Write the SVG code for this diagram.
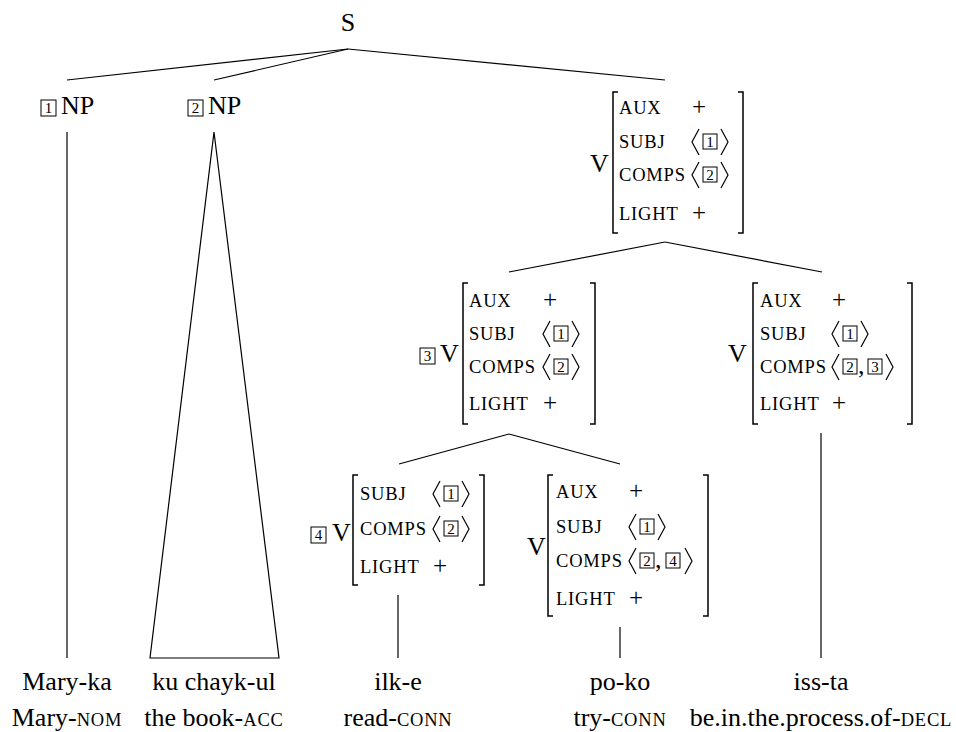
<svg xmlns="http://www.w3.org/2000/svg" width="956" height="732" viewBox="0 0 956 732">
<style>
text{font-family:"Liberation Serif","Times New Roman",serif;fill:#000}
.t{font-size:26px}
.m{font-size:26px;text-anchor:middle}
.f{font-size:18.5px;letter-spacing:0.8px}
.sc{font-size:18.5px;letter-spacing:0.8px}
.p{font-size:25px}
.d{font-size:15px;text-anchor:middle}
.bx{fill:none;stroke:#000;stroke-width:1}
.br{fill:none;stroke:#000;stroke-width:1.5}
.ab{fill:none;stroke:#000;stroke-width:1.2}
.c{fill:none;stroke:#000;stroke-width:1.2}
</style>
<rect width="956" height="732" fill="#fff"/>

<g id="connectors" class="c">
<line x1="348" y1="49" x2="67" y2="80"/>
<line x1="348" y1="49" x2="214" y2="80"/>
<line x1="348" y1="49" x2="665" y2="80"/>
<line x1="67" y1="132" x2="67" y2="658"/>
<path d="M214,132 L150,658 L279,658 Z"/>
<line x1="665" y1="242" x2="509" y2="272"/>
<line x1="665" y1="242" x2="822" y2="272"/>
<line x1="509" y1="434" x2="399" y2="464"/>
<line x1="509" y1="434" x2="620" y2="464"/>
<line x1="398" y1="595" x2="398" y2="658"/>
<line x1="620" y1="627" x2="620" y2="658"/>
<line x1="821" y1="433" x2="821" y2="658"/>
</g>

<g id="node-S">
<text class="m" x="348" y="31">S</text>
</g>

<g id="node-NP1">
<rect class="bx" x="41" y="100" width="15" height="16"/>
<text class="d" x="48.5" y="113">1</text>
<text class="t" x="61" y="114">NP</text>
</g>

<g id="node-NP2">
<rect class="bx" x="188" y="100" width="15" height="16"/>
<text class="d" x="195.5" y="113">2</text>
<text class="t" x="208" y="114">NP</text>
</g>

<g id="node-V-top">
<text class="t" x="590" y="172">V</text>
<path class="br" d="M618,92 H613 V233 H618"/>
<path class="br" d="M738,92 H743 V233 H738"/>
<text class="f" x="619" y="114">AUX</text>
<text class="p" x="692" y="115">+</text>
<text class="f" x="619" y="148">SUBJ</text>
<path class="ab" d="M699,129 L692,142 L699,155"/>
<rect class="bx" x="703" y="134" width="14" height="15"/>
<text class="d" x="710" y="147">1</text>
<path class="ab" d="M721,129 L728,142 L721,155"/>
<text class="f" x="619" y="181">COMPS</text>
<path class="ab" d="M699,162 L692,175 L699,188"/>
<rect class="bx" x="703" y="167" width="14" height="15"/>
<text class="d" x="710" y="180">2</text>
<path class="ab" d="M721,162 L728,175 L721,188"/>
<text class="f" x="619" y="220">LIGHT</text>
<text class="p" x="692" y="221">+</text>
</g>

<g id="node-V3">
<rect class="bx" x="420" y="348" width="15" height="16"/>
<text class="d" x="427.5" y="361">3</text>
<text class="t" x="440" y="362">V</text>
<path class="br" d="M468,283 H463 V424 H468"/>
<path class="br" d="M590,283 H595 V424 H590"/>
<text class="f" x="469" y="307">AUX</text>
<text class="p" x="543" y="308">+</text>
<text class="f" x="469" y="340">SUBJ</text>
<path class="ab" d="M550,321 L543,334 L550,347"/>
<rect class="bx" x="554" y="326" width="14" height="15"/>
<text class="d" x="561" y="339">1</text>
<path class="ab" d="M572,321 L579,334 L572,347"/>
<text class="f" x="469" y="373">COMPS</text>
<path class="ab" d="M550,354 L543,367 L550,380"/>
<rect class="bx" x="554" y="359" width="14" height="15"/>
<text class="d" x="561" y="372">2</text>
<path class="ab" d="M572,354 L579,367 L572,380"/>
<text class="f" x="469" y="410">LIGHT</text>
<text class="p" x="543" y="411">+</text>
</g>

<g id="node-V-right">
<text class="t" x="728" y="362">V</text>
<path class="br" d="M758,283 H753 V424 H758"/>
<path class="br" d="M907,283 H912 V424 H907"/>
<text class="f" x="760" y="307">AUX</text>
<text class="p" x="832" y="308">+</text>
<text class="f" x="760" y="340">SUBJ</text>
<path class="ab" d="M839,321 L832,334 L839,347"/>
<rect class="bx" x="843" y="326" width="14" height="15"/>
<text class="d" x="850" y="339">1</text>
<path class="ab" d="M861,321 L868,334 L861,347"/>
<text class="f" x="760" y="373">COMPS</text>
<path class="ab" d="M839,354 L832,367 L839,380"/>
<rect class="bx" x="843" y="359" width="14" height="15"/>
<text class="d" x="850" y="372">2</text>
<text class="t" x="858" y="374">,</text>
<rect class="bx" x="868" y="359" width="14" height="15"/>
<text class="d" x="875" y="372">3</text>
<path class="ab" d="M886,354 L893,367 L886,380"/>
<text class="f" x="760" y="410">LIGHT</text>
<text class="p" x="832" y="411">+</text>
</g>

<g id="node-V4">
<rect class="bx" x="311" y="527" width="15" height="16"/>
<text class="d" x="318.5" y="540">4</text>
<text class="t" x="332" y="541">V</text>
<path class="br" d="M358,475 H353 V585 H358"/>
<path class="br" d="M479,475 H484 V585 H479"/>
<text class="f" x="360" y="500">SUBJ</text>
<path class="ab" d="M440,481 L433,494 L440,507"/>
<rect class="bx" x="444" y="486" width="14" height="15"/>
<text class="d" x="451" y="499">1</text>
<path class="ab" d="M462,481 L469,494 L462,507"/>
<text class="f" x="360" y="535">COMPS</text>
<path class="ab" d="M440,516 L433,529 L440,542"/>
<rect class="bx" x="444" y="521" width="14" height="15"/>
<text class="d" x="451" y="534">2</text>
<path class="ab" d="M462,516 L469,529 L462,542"/>
<text class="f" x="360" y="573">LIGHT</text>
<text class="p" x="433" y="574">+</text>
</g>

<g id="node-V-poko">
<text class="t" x="527" y="555">V</text>
<path class="br" d="M553,475 H548 V616 H553"/>
<path class="br" d="M703,475 H708 V616 H703"/>
<text class="f" x="556" y="498">AUX</text>
<text class="p" x="629" y="499">+</text>
<text class="f" x="556" y="533">SUBJ</text>
<path class="ab" d="M636,514 L629,527 L636,540"/>
<rect class="bx" x="640" y="519" width="14" height="15"/>
<text class="d" x="647" y="532">1</text>
<path class="ab" d="M658,514 L665,527 L658,540"/>
<text class="f" x="556" y="567">COMPS</text>
<path class="ab" d="M636,548 L629,561 L636,574"/>
<rect class="bx" x="640" y="553" width="14" height="15"/>
<text class="d" x="647" y="566">2</text>
<text class="t" x="655" y="568">,</text>
<rect class="bx" x="666" y="553" width="14" height="15"/>
<text class="d" x="673" y="566">4</text>
<path class="ab" d="M685,548 L692,561 L685,574"/>
<text class="f" x="556" y="605">LIGHT</text>
<text class="p" x="629" y="606">+</text>
</g>

<g id="leaf-Mary-ka">
<text class="m" x="67" y="690">Mary-ka</text>
<text class="m" x="67" y="726">Mary-<tspan class="sc">NOM</tspan></text>
</g>
<g id="leaf-ku-chayk-ul">
<text class="m" x="214" y="690">ku chayk-ul</text>
<text class="m" x="214" y="726">the book-<tspan class="sc">ACC</tspan></text>
</g>
<g id="leaf-ilk-e">
<text class="m" x="398" y="690">ilk-e</text>
<text class="m" x="398" y="726">read-<tspan class="sc">CONN</tspan></text>
</g>
<g id="leaf-po-ko">
<text class="m" x="620" y="690">po-ko</text>
<text class="m" x="620" y="726">try-<tspan class="sc">CONN</tspan></text>
</g>
<g id="leaf-iss-ta">
<text class="m" x="821" y="690">iss-ta</text>
<text class="m" x="821" y="726">be.in.the.process.of-<tspan class="sc">DECL</tspan></text>
</g>
</svg>
